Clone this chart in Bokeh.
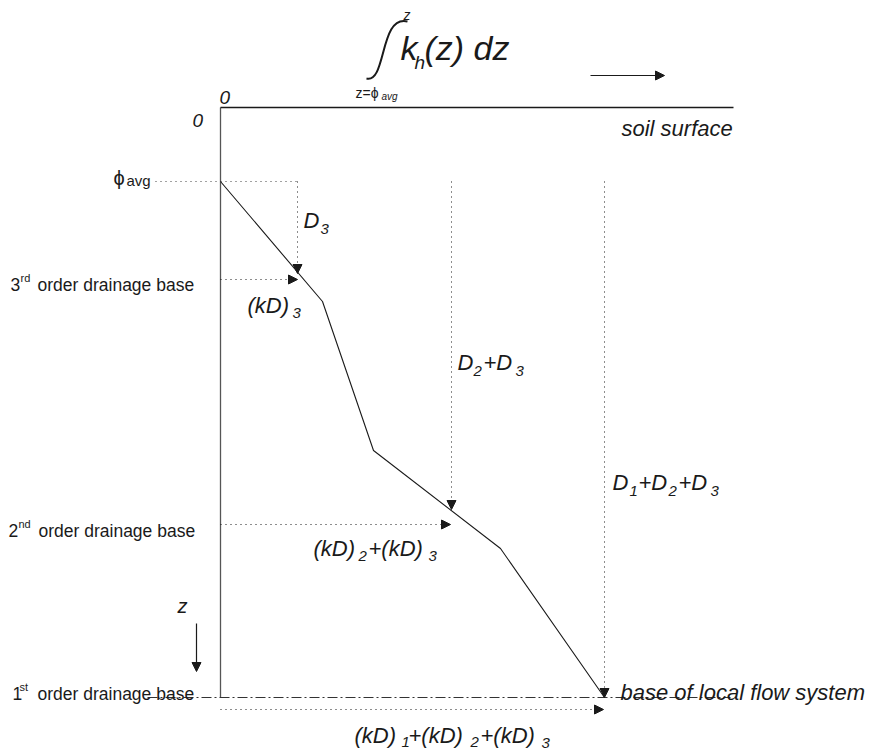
from bokeh.plotting import figure
from bokeh.models import Range1d, Arrow, NormalHead
from bokeh.core.properties import value
from bokeh.embed import file_html
from bokeh.resources import INLINE

# ---- diagram data (screen units of the schematic) ----
axis_x = 220            # kD = 0
surface_z = 107         # z = 0 (soil surface)
phi_avg_z = 181         # average phreatic level
base3_z = 279           # 3rd order drainage base
base2_z = 524           # 2nd order drainage base
base1_z = 697           # 1st order drainage base / base of local flow system
surface_end_x = 733

# cumulative transmissivity profile  (kD vs depth)
profile_kd = [220, 322, 373, 500, 604]
profile_z = [181, 301, 450, 548, 697]

# cumulative kD at each drainage base
kd3 = 297
kd23 = 451
kd123 = 604

FONT = value("Liberation Sans")
INK = "#1a1a1a"
F = 22   # main italic label size
S = 15   # subscript size
L = 17.5 # left labels

p = figure(width=872, height=749, x_range=Range1d(0, 872), y_range=Range1d(749, 0),
           output_backend="svg", toolbar_location=None, min_border=0)
p.axis.visible = False
p.grid.visible = False
p.outline_line_color = None
p.background_fill_color = "white"


def txt(x, y, s, size, italic=True, color=INK):
    p.text(x=[x], y=[y], text=[s], text_font=FONT, text_font_size=f"{size}px",
           text_font_style="italic" if italic else "normal",
           text_baseline="alphabetic", text_align="left", text_color=color)


def arrow(x0, y0, x1, y1, dash="solid", width=1.0):
    p.add_layout(Arrow(x_start=x0, y_start=y0, x_end=x1, y_end=y1,
                       line_color=INK, line_width=width, line_dash=dash,
                       end=NormalHead(size=9, fill_color=INK, line_color=INK, line_width=1)))


# axes of the schematic
p.line([axis_x, axis_x], [surface_z, base1_z], line_color="#555555", line_width=1.3)
p.line([axis_x, surface_end_x], [surface_z, surface_z], line_color=INK, line_width=1.3)

# base of local flow system (dash-dot)
p.line([147, 730], [base1_z, base1_z], line_color="#333333", line_width=1.0, line_dash="10 3 2 3")

# phi_avg dotted level
p.line([155, kd3], [phi_avg_z, phi_avg_z], line_color="#444444", line_width=1.1, line_dash="1 4")

# vertical dotted arrows (D3, D2+D3, D1+D2+D3)
arrow(kd3, phi_avg_z, kd3, 273, dash="1 4")
arrow(kd23, phi_avg_z, kd23, 509, dash="1 4")
arrow(kd123, phi_avg_z, kd123, base1_z, dash="1 4")

# horizontal dotted arrows ((kD)3, (kD)2+(kD)3, total)
arrow(axis_x, base3_z, kd3, base3_z, dash="1 4")
arrow(axis_x, base2_z, kd23 - 1, base2_z, dash="1 4")
arrow(axis_x, 709, kd123 - 1, 709, dash="1 4")

# the kD profile
p.line(profile_kd, profile_z, line_color=INK, line_width=1.1)

# z arrow and integral direction arrow
arrow(196, 623, 196, 671, width=1.2)
arrow(590, 75, 664, 75, width=1.2)

# integral sign
p.bezier(x0=[366], y0=[78], x1=[407], y1=[21], cx0=[386], cy0=[83], cx1=[379], cy1=[14],
         line_color=INK, line_width=2.0)

# ---- texts ----
txt(400, 47, "k", 34)
txt(414, 62, "h", 19)
txt(424, 47, "(z) dz", 34)
txt(403, 14, "z", 14)
txt(355, 92, "z=ϕ", 14, italic=False)
txt(381, 96, "avg", 10)

txt(219, 97, "0", 19)
txt(192, 120, "0", 19)
txt(621, 128, "soil surface", F)

txt(113, 177, "ϕ", 20, italic=False)
txt(126, 180, "avg", 15, italic=False)

txt(10, 284, "3", L, italic=False)
txt(20, 277, "rd", 11, italic=False)
txt(37, 284, "order drainage base", L, italic=False)

txt(8, 530, "2", L, italic=False)
txt(18, 523, "nd", 11, italic=False)
txt(38, 530, "order drainage base", L, italic=False)

txt(12, 693, "1", L, italic=False)
txt(19, 686, "st", 11, italic=False)
txt(37, 693, "order drainage base", L, italic=False)

txt(177, 605, "z", 20)

# D3
txt(303, 220, "D", F)
txt(320, 228, "3", S)
# (kD)3
txt(247, 305, "(kD)", F)
txt(292, 312, "3", S)
# D2+D3
txt(457, 362, "D", F)
txt(473, 370, "2", S)
txt(483, 362, "+D", F)
txt(515, 370, "3", S)
# D1+D2+D3
txt(612, 482, "D", F)
txt(629, 490, "1", S)
txt(638, 482, "+D", F)
txt(668, 490, "2", S)
txt(678, 482, "+D", F)
txt(710, 490, "3", S)
# (kD)2+(kD)3
txt(313, 548, "(kD)", F)
txt(358, 555, "2", S)
txt(368, 548, "+(kD)", F)
txt(428, 555, "3", S)
# (kD)1+(kD)2+(kD)3
txt(354, 735, "(kD)", F)
txt(401, 741, "1", S)
txt(408, 735, "+(kD)", F)
txt(470, 741, "2", S)
txt(480, 735, "+(kD)", F)
txt(541, 742, "3", S)

txt(620, 692, "base of local flow system", F)

open("out.html", "w").write(file_html(p, INLINE))
